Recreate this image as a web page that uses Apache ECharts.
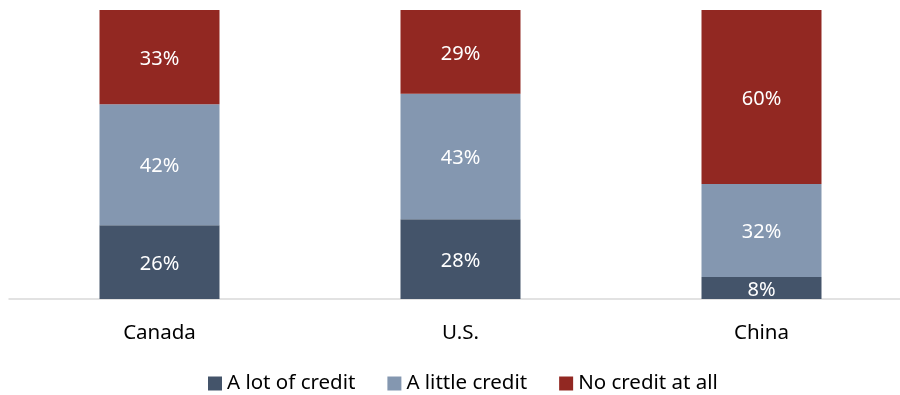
<!DOCTYPE html>
<html><head><meta charset="utf-8">
<script src="https://cdn.jsdelivr.net/npm/echarts@6/dist/echarts.min.js"></script>
<style>html,body{margin:0;padding:0;background:#fff;overflow:hidden}#c{width:912px;height:395px}</style>
</head><body><div id="c"></div>
<script>
const categories = ['Canada', 'U.S.', 'China'];
const seriesNames = ['A lot of credit', 'A little credit', 'No credit at all'];
const aLot = [25.5, 27.6, 7.6];
const aLittle = [41.9, 43.4, 32.2];
const noCredit = [32.6, 29.0, 60.2];
const colors = ['#44546a', '#8497b0', '#922822'];
const font = '"Noto Sans", sans-serif';
const chart = echarts.init(document.getElementById('c'));
const mk = (name, data, i) => ({
  name, type: 'bar', stack: 'a', data, barWidth: 120,
  itemStyle: { color: colors[i] },
  label: { show: true, position: 'inside', color: '#fff', fontSize: 20, fontFamily: font,
    offset: [0, 2], formatter: p => Math.round(p.value) + '%' }
});
chart.setOption({
  animation: false,
  grid: { left: 9, right: 0, top: 10, bottom: 96 },
  legend: { top: 368, left: 203, itemWidth: 14, itemHeight: 14, itemGap: 32, icon: 'rect',
    textStyle: { fontSize: 20.5, fontFamily: font, color: '#000' },
    data: seriesNames },
  xAxis: { type: 'category', data: categories,
    axisLine: { lineStyle: { color: '#d9d9d9', width: 1.5 } }, axisTick: { show: false },
    axisLabel: { fontSize: 20.5, fontFamily: font, color: '#000', margin: 24 } },
  yAxis: { type: 'value', min: 0, max: 100, show: false, splitLine: { show: false } },
  series: [mk(seriesNames[0], aLot, 0), mk(seriesNames[1], aLittle, 1), mk(seriesNames[2], noCredit, 2)]
});
</script></body></html>
